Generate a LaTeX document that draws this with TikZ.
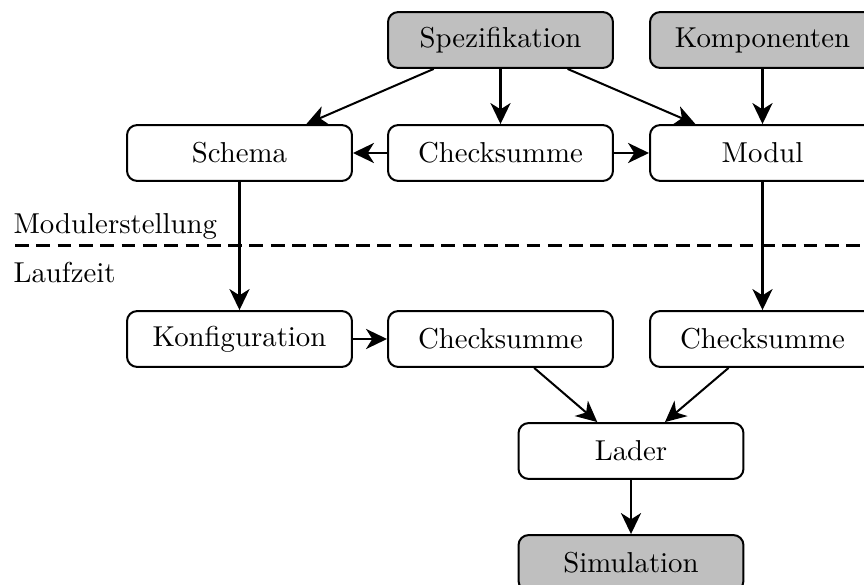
\documentclass[tikz,border=0pt]{standalone}
\usetikzlibrary{arrows.meta}
\begin{document}
\begin{tikzpicture}[x=0.3472pt,y=-0.3472pt,
  box/.style={draw,line width=0.7pt,rounded corners=3.5pt,fill=white,
    minimum width=78.1pt,minimum height=19.4pt,inner sep=0pt},
  inbox/.style={box,fill=black!25},
  flow/.style={line width=0.7pt,-{Stealth[length=7.3pt,width=7pt,inset=2.2pt]}},
  lbl/.style={anchor=base west,inner sep=0pt}]
  \useasboundingbox (0,0) rectangle (864,585);
  \clip (0,0) rectangle (864,585);

  % top row: inputs
  \node[inbox] (spez) at (500.5,40) {Spezifikation};
  \node[inbox] (komp) at (762.5,40) {Komponenten};

  % module creation
  \node[box] (schema) at (239.5,153) {Schema};
  \node[box] (cs1) at (500.5,153) {Checksumme};
  \node[box] (modul) at (762.5,153) {Modul};

  % runtime
  \node[box] (konf) at (239.5,339) {Konfiguration};
  \node[box] (cs2) at (500.5,339) {Checksumme};
  \node[box] (cs3) at (762.5,339) {Checksumme};
  \node[box] (lader) at (631,451) {Lader};
  \node[inbox] (sim) at (631,563) {Simulation};

  % phase separator
  \coordinate (sepL) at (15,245.5);
  \coordinate (sepR) at (880,245.5);
  \draw[dash pattern=on 4.8pt off 2.6pt,line width=0.7pt] (sepL) -- (sepR);
  \node[lbl] (phase1) at (13,234) {Modulerstellung};
  \node[lbl] (phase2) at (13,282.5) {Laufzeit};

  % connections
  \draw[flow] (spez) -- (schema);
  \draw[flow] (spez) -- (cs1);
  \draw[flow] (spez) -- (modul);
  \draw[flow] (komp) -- (modul);
  \draw[flow] (cs1) -- (schema);
  \draw[flow] (cs1) -- (modul);
  \draw[flow] (schema) -- (konf);
  \draw[flow] (modul) -- (cs3);
  \draw[flow] (konf) -- (cs2);
  \draw[flow] (cs2) -- (lader);
  \draw[flow] (cs3) -- (lader);
  \draw[flow] (lader) -- (sim);
\end{tikzpicture}
\end{document}
